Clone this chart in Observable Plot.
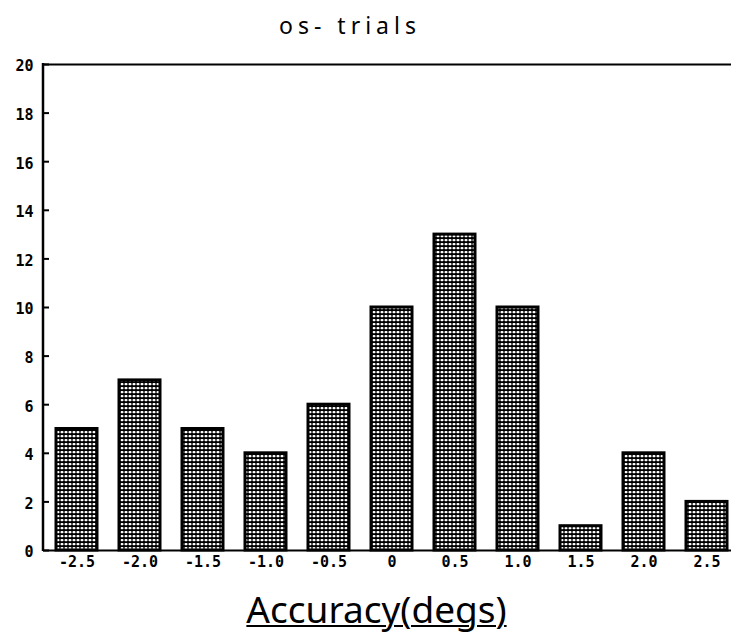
<!DOCTYPE html>
<html>
<head>
<meta charset="utf-8">
<script src="https://cdn.jsdelivr.net/npm/d3@7"></script>
<script src="https://cdn.jsdelivr.net/npm/@observablehq/plot@0.6"></script>
<style>
  html, body { margin: 0; padding: 0; background: #fff; overflow: hidden; }
  #title { height: 50px; width: 731px; box-sizing: border-box; padding-right: 31px; text-align: center;
           font-family: "Noto Sans", sans-serif; font-size: 23px; letter-spacing: 5px; line-height: 50px; color: #000; }
  #xlabel { height: 54px; width: 731px; box-sizing: border-box; padding-left: 22px; text-align: center;
            font-family: "Noto Sans", sans-serif; font-size: 37px; line-height: 58px; color: #000;
            text-decoration: underline; text-decoration-thickness: 2px; text-underline-offset: 2px; }
  svg { display: block; }
</style>
</head>
<body>
<div id="title">os- trials</div>
<div id="chart"></div>
<div id="xlabel">Accuracy(degs)</div>
<script>
const categories = ["-2.5", "-2.0", "-1.5", "-1.0", "-0.5", "0", "0.5", "1.0", "1.5", "2.0", "2.5"];
const counts = [5, 7, 5, 4, 6, 10, 13, 10, 1, 4, 2];
const yTicks = [0, 2, 4, 6, 8, 10, 12, 14, 16, 18, 20];

const data = categories.map((c, i) => ({bin: c, count: counts[i]}));

const leftLine = (index, scales, values, dims) => {
  const svg = d3.create("svg:line")
    .attr("x1", dims.marginLeft).attr("x2", dims.marginLeft)
    .attr("y1", scales.y(20) - 1).attr("y2", scales.y(0) + 1)
    .attr("stroke", "black").attr("stroke-width", 2.5);
  return svg.node();
};

const chart = Plot.plot({
  width: 731,
  height: 530,
  marginLeft: 43,
  marginRight: 0,
  marginTop: 14,
  marginBottom: 30,
  style: {fontFamily: "'DejaVu Sans Mono', monospace", fontWeight: "bold", fontSize: "15px", color: "black"},
  x: {domain: categories, paddingInner: 0.35, paddingOuter: 0.135, align: 0.76, label: null},
  y: {domain: [0, 20], label: null},
  marks: [
    Plot.barY(data, {x: "bin", y: "count", fill: "url(#dots)", stroke: "black", strokeWidth: 3}),
    Plot.ruleY([0, 20], {stroke: "black", strokeWidth: 2}),
    leftLine,
    Plot.axisY({ticks: yTicks, tickSize: 6, dx: 6, tickFormat: () => "", strokeWidth: 2, label: null}),
    Plot.axisY({ticks: yTicks, tickSize: 0, tickPadding: 10, dy: 2, label: null}),
    Plot.axisX({tickSize: 0, tickPadding: 6, label: null})
  ]
});

const svgSel = d3.select(chart);
const defs = svgSel.insert("defs", ":first-child");
const pat = defs.append("pattern").attr("id", "dots").attr("patternUnits", "userSpaceOnUse")
  .attr("width", 4).attr("height", 4);
pat.append("rect").attr("width", 4).attr("height", 4).attr("fill", "black");
pat.append("rect").attr("x", 0.5).attr("y", 1).attr("width", 3).attr("height", 2.2).attr("rx", 1).attr("fill", "white");

document.getElementById("chart").appendChild(chart);
</script>
</body>
</html>
